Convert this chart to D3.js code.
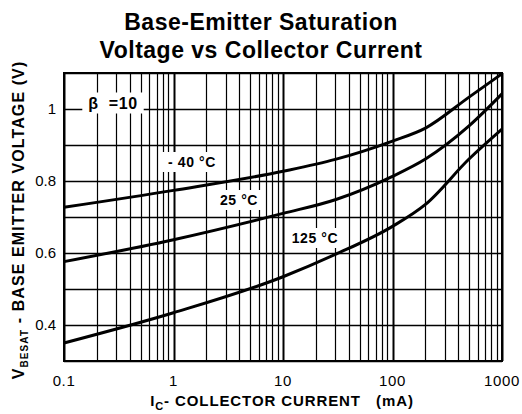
<!DOCTYPE html>
<head>
  <meta charset="UTF-8" />
  <title>Base-Emitter Saturation Voltage</title>
  <style>
    body { margin: 0; background: #fff; }
    svg { font-family: "Liberation Sans", Arial, sans-serif; }
    text { white-space: pre; }
  </style>
</head>
<body>
  <svg width="522" height="414"></svg>
</body>

<script src="https://cdn.jsdelivr.net/npm/d3@7"></script>
<script>
  // Data (I_C in mA, V_BE(sat) in volts)
  const current = [0.1, 1, 10, 30, 100, 200, 500, 1000];
  const vMinus40 = [0.727, 0.774, 0.827, 0.86, 0.911, 0.947, 1.033, 1.098];
  const v25 = [0.576, 0.637, 0.71, 0.748, 0.813, 0.861, 0.953, 1.042];
  const v125 = [0.35, 0.434, 0.534, 0.596, 0.674, 0.735, 0.861, 0.944];
  const xTickLabels = ["0.1", "1", "10", "100", "1000"];
  const yTickLabels = ["0.4", "0.6", "0.8", "1"];

  const series = [
    { name: "- 40 °C", values: vMinus40, lx: 192, ly: 162 },
    { name: "25 °C", values: v25, lx: 239, ly: 200 },
    { name: "125 °C", values: v125, lx: 315, ly: 238 }
  ];

  const svg = d3.select("svg");
  const plotL = 64, plotR = 502, plotT = 73, plotB = 361;

  const x = d3.scaleLog().domain([0.1, 1000]).range([plotL, plotR]);
  const y = d3.scaleLinear().domain([0.3, 1.1]).range([plotB, plotT]);

  // title
  svg.append("text")
    .attr("x", 261).attr("y", 30)
    .attr("text-anchor", "middle")
    .attr("font-size", "23px").attr("font-weight", "bold")
    .attr("letter-spacing", "0.5px")
    .text("Base-Emitter Saturation");
  svg.append("text")
    .attr("x", 261).attr("y", 58)
    .attr("text-anchor", "middle")
    .attr("font-size", "23px").attr("font-weight", "bold")
    .attr("letter-spacing", "0.5px")
    .text("Voltage vs Collector Current");

  // vertical grid: every 1..9 per decade
  const vlines = [];
  for (let d = 0.1; d < 1000; d *= 10) {
    for (let k = 1; k < 10; k++) vlines.push(+(d * k).toPrecision(3));
  }
  vlines.push(1000);
  svg.append("g").selectAll("line")
    .data(vlines)
    .join("line")
    .attr("x1", d => Math.round(x(d)) + 0.5)
    .attr("x2", d => Math.round(x(d)) + 0.5)
    .attr("y1", plotT).attr("y2", plotB)
    .attr("stroke", "#000")
    .attr("stroke-width", d => Math.abs(Math.log10(d) % 1) < 1e-6 ? 2 : 1.2);

  // horizontal grid every 0.1 V
  const hlines = d3.range(0.3, 1.1001, 0.1);
  svg.append("g").selectAll("line")
    .data(hlines)
    .join("line")
    .attr("x1", plotL).attr("x2", plotR)
    .attr("y1", d => Math.round(y(d)) + 0.5)
    .attr("y2", d => Math.round(y(d)) + 0.5)
    .attr("stroke", "#000")
    .attr("stroke-width", 1.5);

  // frame
  svg.append("rect")
    .attr("x", plotL).attr("y", plotT)
    .attr("width", plotR - plotL).attr("height", plotB - plotT)
    .attr("fill", "none").attr("stroke", "#000").attr("stroke-width", 2);

  // curves
  const line = d3.line()
    .x((d, i) => x(current[i]))
    .y(d => y(d))
    .curve(d3.curveMonotoneX);

  svg.append("g").selectAll("path")
    .data(series)
    .join("path")
    .attr("d", d => line(d.values))
    .attr("fill", "none")
    .attr("stroke", "#000")
    .attr("stroke-width", 3);

  // labels with white boxes
  function boxedLabel(txt, cx, cy, size) {
    const g = svg.append("g");
    const t = g.append("text")
      .attr("x", cx).attr("y", cy)
      .attr("text-anchor", "middle")
      .attr("dominant-baseline", "central")
      .attr("font-size", size).attr("font-weight", "bold")
      .attr("letter-spacing", "0.6px")
      .text(txt);
    const b = t.node().getBBox();
    g.insert("rect", "text")
      .attr("x", b.x - 6).attr("y", b.y - 2)
      .attr("width", b.width + 12).attr("height", b.height + 4)
      .attr("fill", "#fff");
  }
  series.forEach(s => boxedLabel(s.name, s.lx, s.ly, "14px"));
  boxedLabel("β  =10", 113, 103, "16px");

  // tick labels
  svg.append("g").selectAll("text")
    .data(xTickLabels)
    .join("text")
    .attr("x", d => x(+d))
    .attr("y", 386)
    .attr("text-anchor", "middle")
    .attr("font-size", "15px")
    .attr("letter-spacing", "0.6px")
    .text(d => d);

  svg.append("g").selectAll("text")
    .data(yTickLabels)
    .join("text")
    .attr("x", 56)
    .attr("y", d => y(+d) + 5)
    .attr("text-anchor", "end")
    .attr("font-size", "15px")
    .text(d => d);

  // axis titles
  const xt = svg.append("text")
    .attr("x", 282).attr("y", 406)
    .attr("text-anchor", "middle")
    .attr("font-size", "15px").attr("font-weight", "bold")
    .attr("letter-spacing", "0.9px");
  xt.append("tspan").text("I");
  xt.append("tspan").attr("dy", 4).attr("font-size", "11px").text("C");
  xt.append("tspan").attr("dy", -4).text("- COLLECTOR CURRENT   (mA)");

  const yt = svg.append("text")
    .attr("transform", "translate(24,220) rotate(-90)")
    .attr("text-anchor", "middle")
    .attr("font-size", "16px").attr("font-weight", "bold")
    .attr("letter-spacing", "1.1px");
  yt.append("tspan").text("V");
  yt.append("tspan").attr("dy", 4).attr("font-size", "10px").text("BESAT");
  yt.append("tspan").attr("dy", -4).text(" - BASE EMITTER VOLTAGE (V)");
</script>
